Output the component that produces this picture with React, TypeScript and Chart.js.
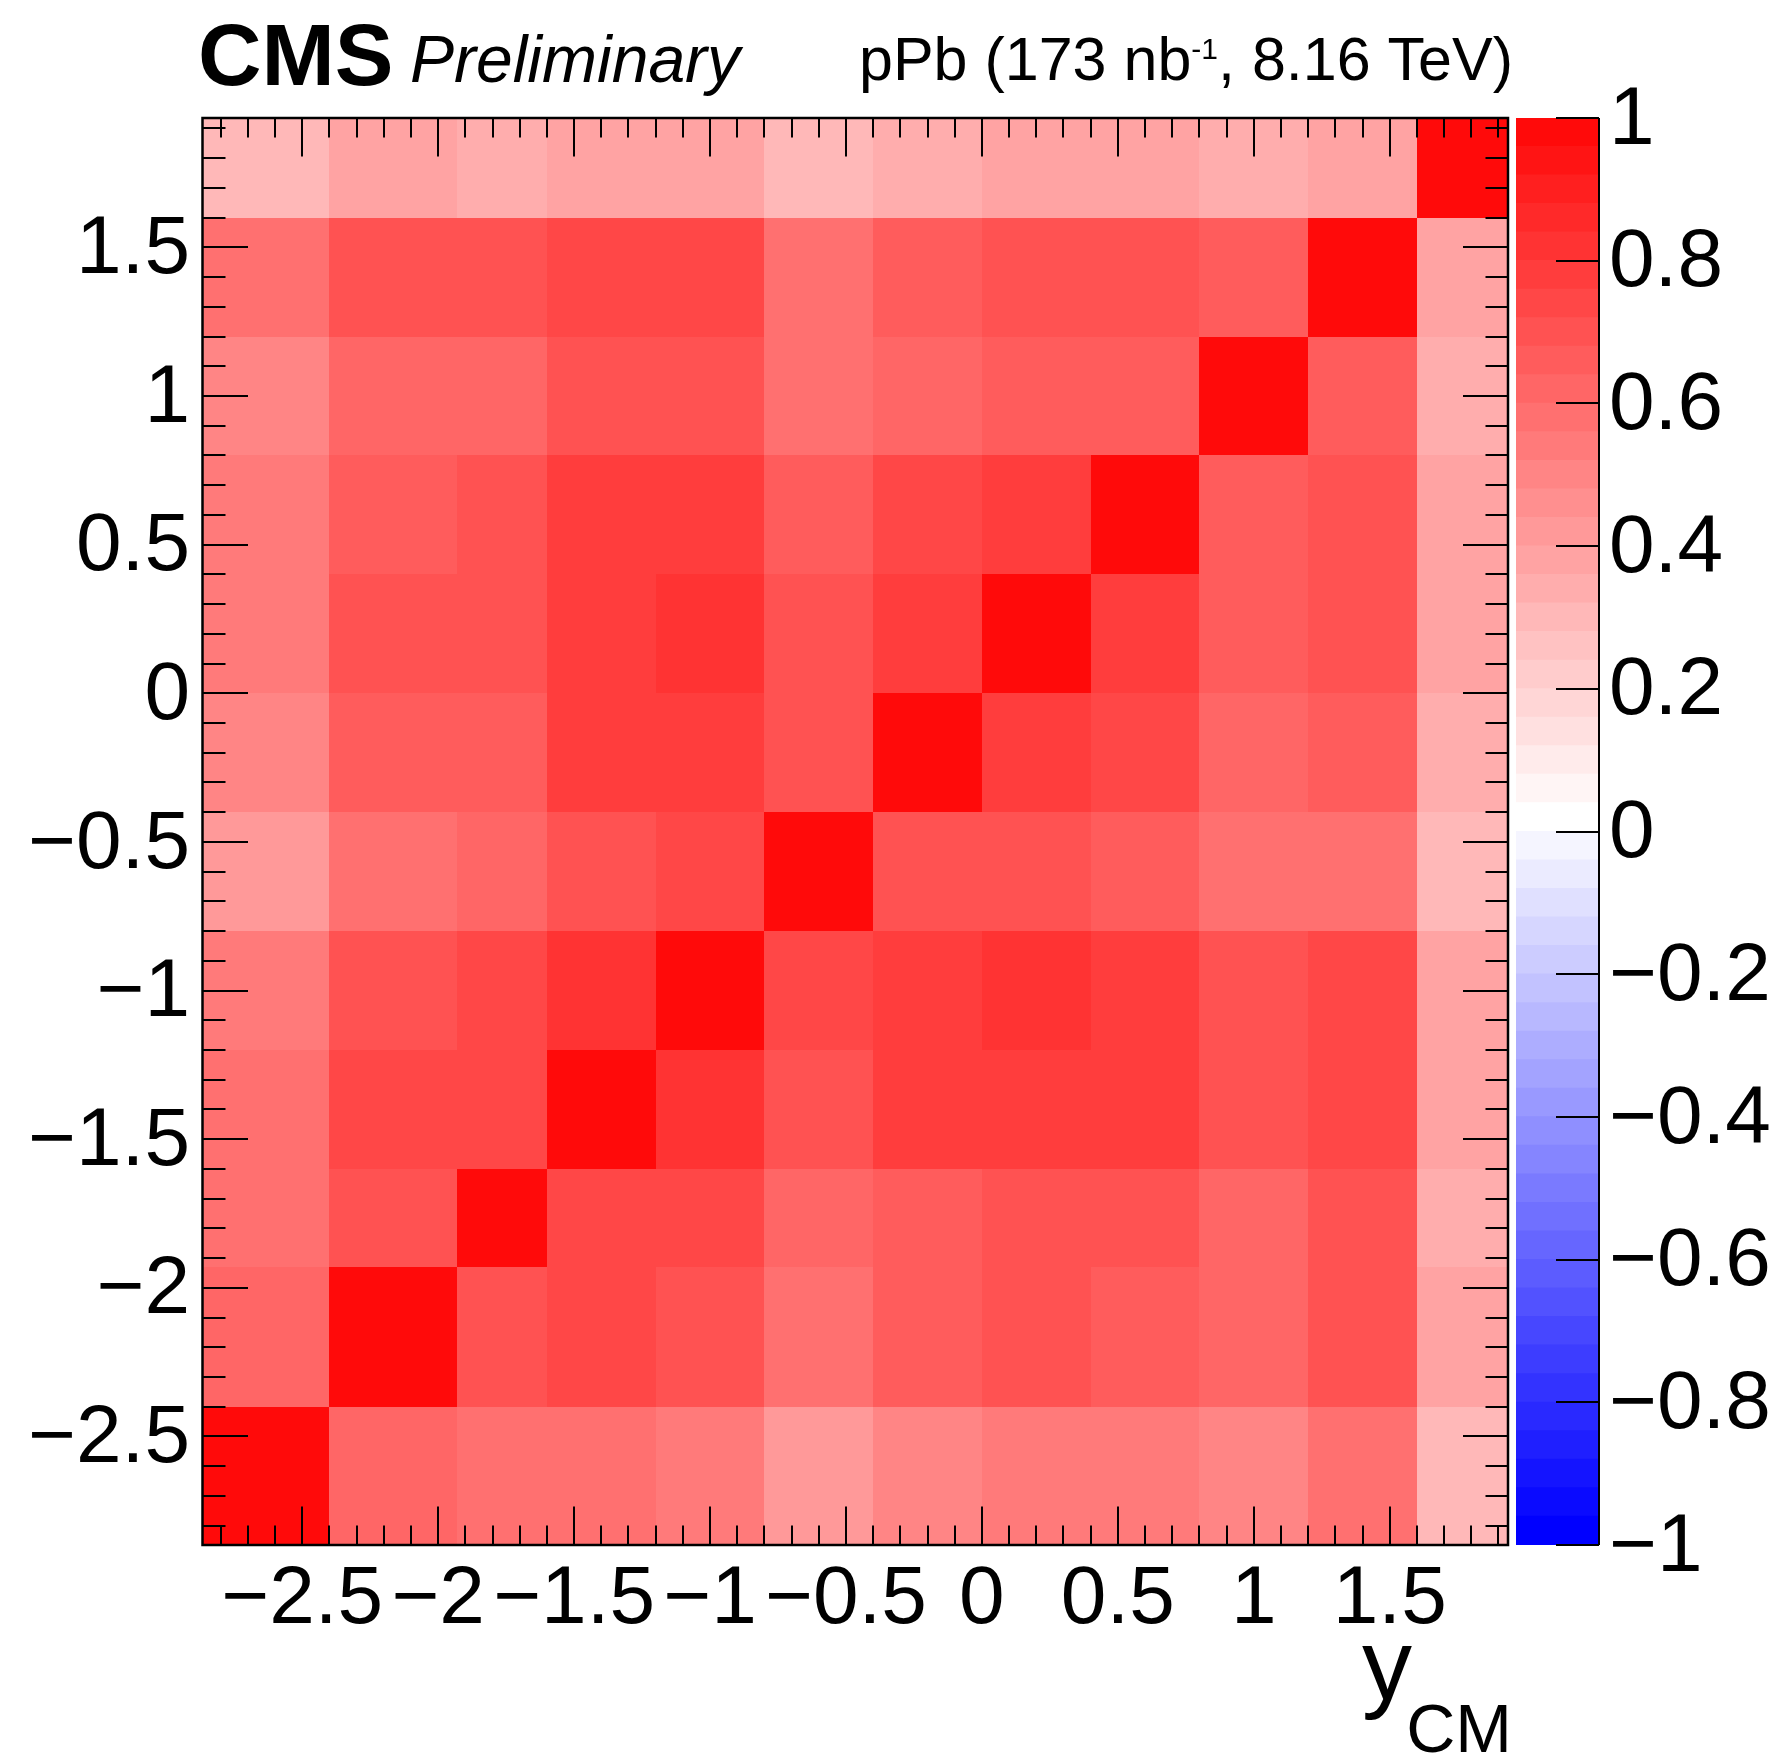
import React, { useEffect, useRef } from 'react';
import { Chart, registerables } from 'chart.js';

Chart.register(...registerables);

const FONT = "'Liberation Sans', Arial, Helvetica, sans-serif";

// Rapidity bin edges in y_CM (x and y axes share the binning)
const xEdges = [-2.865, -2.4, -1.93, -1.6, -1.2, -0.8, -0.4, 0, 0.4, 0.8, 1.2, 1.6, 1.935];
const yEdges = [-2.865, -2.4, -1.93, -1.6, -1.2, -0.8, -0.4, 0, 0.4, 0.8, 1.2, 1.6, 1.935];

// Correlation coefficients, one row per y bin (bottom row first), columns follow x bins
const corrY0 = [1.0, 0.62, 0.58, 0.58, 0.54, 0.42, 0.5, 0.54, 0.54, 0.5, 0.58, 0.3];
const corrY1 = [0.62, 1.0, 0.7, 0.74, 0.7, 0.58, 0.66, 0.7, 0.66, 0.62, 0.7, 0.38];
const corrY2 = [0.58, 0.7, 1.0, 0.74, 0.74, 0.62, 0.66, 0.7, 0.7, 0.62, 0.7, 0.34];
const corrY3 = [0.58, 0.74, 0.74, 1.0, 0.82, 0.7, 0.78, 0.78, 0.78, 0.7, 0.74, 0.38];
const corrY4 = [0.54, 0.7, 0.74, 0.82, 1.0, 0.74, 0.78, 0.82, 0.78, 0.7, 0.74, 0.38];
const corrY5 = [0.42, 0.58, 0.62, 0.7, 0.74, 1.0, 0.7, 0.7, 0.66, 0.58, 0.58, 0.3];
const corrY6 = [0.5, 0.66, 0.66, 0.78, 0.78, 0.7, 1.0, 0.78, 0.74, 0.62, 0.66, 0.34];
const corrY7 = [0.54, 0.7, 0.7, 0.78, 0.82, 0.7, 0.78, 1.0, 0.78, 0.66, 0.7, 0.38];
const corrY8 = [0.54, 0.66, 0.7, 0.78, 0.78, 0.66, 0.74, 0.78, 1.0, 0.66, 0.7, 0.38];
const corrY9 = [0.5, 0.62, 0.62, 0.7, 0.7, 0.58, 0.62, 0.66, 0.66, 1.0, 0.66, 0.34];
const corrY10 = [0.58, 0.7, 0.7, 0.74, 0.74, 0.58, 0.66, 0.7, 0.7, 0.66, 1.0, 0.38];
const corrY11 = [0.3, 0.38, 0.34, 0.38, 0.38, 0.3, 0.34, 0.38, 0.38, 0.34, 0.38, 1.0];
const corrRows = [corrY0, corrY1, corrY2, corrY3, corrY4, corrY5, corrY6, corrY7, corrY8, corrY9, corrY10, corrY11];

// Axis tick labels
const xTickValues = [-2.5, -2, -1.5, -1, -0.5, 0, 0.5, 1, 1.5];
const yTickValues = [-2.5, -2, -1.5, -1, -0.5, 0, 0.5, 1, 1.5];
const zTickValues = [-1, -0.8, -0.6, -0.4, -0.2, 0, 0.2, 0.4, 0.6, 0.8, 1];

// Palette: 50 contour levels from -1 to 1, blue -> white -> red
const Z_MIN = -1;
const Z_MAX = 1;
const N_CONTOURS = 50;

function paletteColor(k: number): string {
  const half = N_CONTOURS / 2;
  if (k < half) {
    const c = Math.round((255 * k) / half);
    return `rgb(${c},${c},255)`;
  }
  const c = Math.round(255 * (1 - (k - half) / half));
  return `rgb(255,${c},${c})`;
}

function colorForValue(v: number): string {
  let k = Math.floor(0.01 + ((v - Z_MIN) * N_CONTOURS) / (Z_MAX - Z_MIN));
  if (k > N_CONTOURS - 1) k = N_CONTOURS - 1;
  if (k < 0) k = 0;
  return paletteColor(k);
}

const fmt = (v: number | string) => {
  const n = typeof v === 'string' ? parseFloat(v) : v;
  const s = String(Math.round(n * 100) / 100);
  return s.replace('-', '\u2212');
};

const isMajor = (v: number, step: number) => Math.abs(v / step - Math.round(v / step)) < 1e-6;

const heatmapPlugin = {
  id: 'heatmapCells',
  beforeDatasetsDraw(chart: any) {
    const { ctx } = chart;
    const xs = chart.scales.x;
    const ys = chart.scales.y;
    const data = chart.data.datasets[0].data as any[];
    ctx.save();
    for (const p of data) {
      const xl = Math.round(xs.getPixelForValue(xEdges[p.j]));
      const xr = Math.round(xs.getPixelForValue(xEdges[p.j + 1]));
      const yt = Math.round(ys.getPixelForValue(yEdges[p.i + 1]));
      const yb = Math.round(ys.getPixelForValue(yEdges[p.i]));
      ctx.fillStyle = colorForValue(p.v);
      ctx.fillRect(xl, yt, xr - xl, yb - yt);
    }
    ctx.restore();
  },
};

const framePlugin = {
  id: 'rootFrame',
  afterDatasetsDraw(chart: any) {
    const { ctx, chartArea } = chart;
    const { left, right, top, bottom } = chartArea;
    const xs = chart.scales.x;
    const ys = chart.scales.y;
    ctx.save();
    ctx.strokeStyle = '#000';
    ctx.lineWidth = 2;
    ctx.beginPath();
    // minor ticks every 0.1, major every 0.5
    for (let t = -28; t <= 19; t++) {
      const v = t / 10;
      const px = Math.round(xs.getPixelForValue(v));
      const len = isMajor(v, 0.5) ? 38.5 : 19.5;
      ctx.moveTo(px, bottom);
      ctx.lineTo(px, bottom - len);
      ctx.moveTo(px, top);
      ctx.lineTo(px, top + len);
    }
    for (let t = -28; t <= 19; t++) {
      const v = t / 10;
      const py = Math.round(ys.getPixelForValue(v));
      const len = isMajor(v, 0.5) ? 45 : 22.5;
      ctx.moveTo(left, py);
      ctx.lineTo(left + len, py);
      ctx.moveTo(right, py);
      ctx.lineTo(right - len, py);
    }
    ctx.stroke();
    ctx.lineWidth = 2.5;
    ctx.strokeRect(left - 0.5, top, right - left + 0.5, bottom - top);
    ctx.restore();
  },
  afterDraw(chart: any) {
    const { ctx } = chart;
    ctx.save();
    ctx.fillStyle = '#000';
    ctx.textBaseline = 'alphabetic';
    ctx.textAlign = 'left';
    ctx.font = `bold 88px ${FONT}`;
    ctx.fillText('CMS', 198, 85);
    ctx.font = `italic 66px ${FONT}`;
    ctx.fillText('Preliminary', 410, 82);

    const mainF = `61px ${FONT}`;
    const supF = `30px ${FONT}`;
    const p1 = 'pPb (173 nb';
    const sup = '-1';
    const p2 = ', 8.16 TeV)';
    ctx.font = mainF;
    const w1 = ctx.measureText(p1).width;
    const w3 = ctx.measureText(p2).width;
    ctx.font = supF;
    const w2 = ctx.measureText(sup).width;
    let x0 = 1513 - (w1 + w2 + w3);
    ctx.font = mainF;
    ctx.fillText(p1, x0, 80);
    x0 += w1;
    ctx.font = supF;
    ctx.fillText(sup, x0, 59);
    x0 += w2;
    ctx.font = mainF;
    ctx.fillText(p2, x0, 80);

    // axis title y_CM
    ctx.font = `100px ${FONT}`;
    ctx.fillText('y', 1362, 1699);
    ctx.font = `68px ${FONT}`;
    ctx.textAlign = 'right';
    ctx.fillText('CM', 1512, 1752);
    ctx.restore();
  },
};

const colorbarFramePlugin = {
  id: 'colorbarFrame',
  afterDatasetsDraw(chart: any) {
    const { ctx, chartArea } = chart;
    const { right, top, bottom } = chartArea;
    const ys = chart.scales.y;
    ctx.save();
    ctx.strokeStyle = '#000';
    ctx.lineWidth = 2;
    ctx.beginPath();
    ctx.moveTo(right, top);
    ctx.lineTo(right, bottom);
    for (const v of zTickValues) {
      const py = Math.round(ys.getPixelForValue(v));
      ctx.moveTo(right, py);
      ctx.lineTo(right - 43, py);
    }
    ctx.stroke();
    ctx.restore();
  },
};

export default function App() {
  const mainRef = useRef<HTMLCanvasElement>(null);
  const barRef = useRef<HTMLCanvasElement>(null);

  useEffect(() => {
    document.body.style.margin = '0';
    const cells: any[] = [];
    corrRows.forEach((row, i) => {
      row.forEach((v, j) => {
        cells.push({
          x: (xEdges[j] + xEdges[j + 1]) / 2,
          y: (yEdges[i] + yEdges[i + 1]) / 2,
          v,
          i,
          j,
        });
      });
    });

    const tickFont = { family: FONT, size: 82 };

    const main = new Chart(mainRef.current as HTMLCanvasElement, {
      type: 'scatter',
      data: {
        datasets: [
          {
            label: 'correlation',
            data: cells,
            pointRadius: 0,
            pointHoverRadius: 0,
            showLine: false,
          } as any,
        ],
      },
      options: {
        animation: false,
        responsive: false,
        devicePixelRatio: 1,
        events: [],
        layout: { padding: { top: 118, right: 269, left: 0, bottom: 0 } },
        plugins: { legend: { display: false }, tooltip: { enabled: false }, title: { display: false } },
        scales: {
          x: {
            type: 'linear',
            position: 'bottom',
            min: xEdges[0],
            max: xEdges[xEdges.length - 1],
            grid: { display: false, drawTicks: false },
            border: { display: false },
            ticks: {
              font: tickFont,
              color: '#000',
              padding: 6,
              maxRotation: 0,
              minRotation: 0,
              autoSkip: false,
              callback: (v: any) => fmt(v),
            },
            afterBuildTicks: (s: any) => {
              s.ticks = xTickValues.map((value) => ({ value }));
            },
            afterFit: (s: any) => {
              s.height = 209;
            },
          },
          y: {
            type: 'linear',
            position: 'left',
            min: yEdges[0],
            max: yEdges[yEdges.length - 1],
            grid: { display: false, drawTicks: false },
            border: { display: false },
            ticks: {
              font: tickFont,
              color: '#000',
              padding: 13,
              labelOffset: 3,
              autoSkip: false,
              callback: (v: any) => fmt(v),
            },
            afterBuildTicks: (s: any) => {
              s.ticks = yTickValues.map((value) => ({ value }));
            },
            afterFit: (s: any) => {
              s.width = 203;
            },
          },
        },
      } as any,
      plugins: [heatmapPlugin, framePlugin],
    });

    const levels: number[] = [];
    for (let k = 0; k < N_CONTOURS; k++) levels.push(Z_MIN + ((Z_MAX - Z_MIN) * k) / N_CONTOURS);

    const bar = new Chart(barRef.current as HTMLCanvasElement, {
      type: 'bar',
      data: {
        labels: ['z'],
        datasets: levels.map((lo, k) => ({
          label: `c${k}`,
          data: [[lo, lo + (Z_MAX - Z_MIN) / N_CONTOURS]],
          backgroundColor: paletteColor(k),
          borderWidth: 0,
          grouped: false,
          barPercentage: 1,
          categoryPercentage: 1,
          inflateAmount: 0.6,
        })) as any,
      },
      options: {
        animation: false,
        responsive: false,
        devicePixelRatio: 1,
        events: [],
        layout: { padding: { top: 118, left: 16, right: 0, bottom: 209 } },
        plugins: { legend: { display: false }, tooltip: { enabled: false } },
        scales: {
          x: { display: false },
          y: {
            type: 'linear',
            position: 'right',
            min: Z_MIN,
            max: Z_MAX,
            grid: { display: false, drawTicks: false },
            border: { display: false },
            ticks: {
              font: tickFont,
              color: '#000',
              padding: 10,
              labelOffset: 3,
              autoSkip: false,
              callback: (v: any) => fmt(v),
            },
            afterBuildTicks: (s: any) => {
              s.ticks = zTickValues.map((value) => ({ value }));
            },
            afterFit: (s: any) => {
              s.width = 178;
            },
          },
        },
      } as any,
      plugins: [colorbarFramePlugin],
    });

    return () => {
      main.destroy();
      bar.destroy();
    };
  }, []);

  return (
    <div style={{ position: 'absolute', left: 0, top: 0, width: 1777, height: 1754, background: '#fff', overflow: 'hidden' }}>
      <canvas
        ref={mainRef}
        width={1777}
        height={1754}
        style={{ position: 'absolute', left: 0, top: 0, width: 1777, height: 1754 }}
      />
      <canvas
        ref={barRef}
        width={277}
        height={1754}
        style={{ position: 'absolute', left: 1500, top: 0, width: 277, height: 1754 }}
      />
    </div>
  );
}
